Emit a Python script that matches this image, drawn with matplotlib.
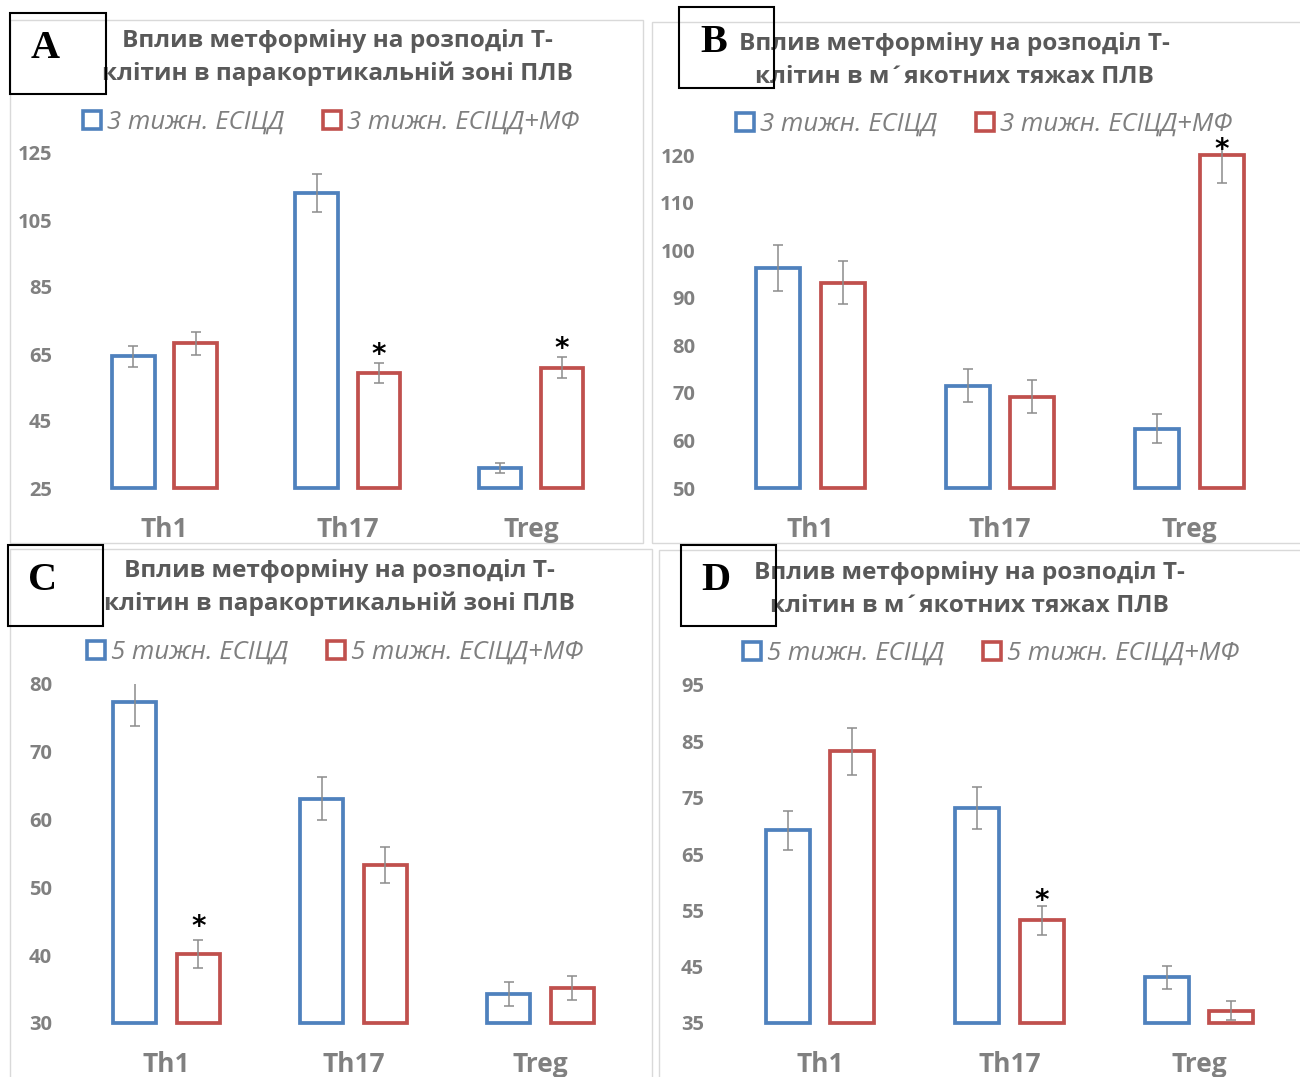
import matplotlib
matplotlib.use("Agg")
import matplotlib.pyplot as plt
from matplotlib.patches import Rectangle, Patch

W, H = 1300, 1077

categories = ["Th1", "Th17", "Treg"]

# Panel A: 3 weeks, paracortical zone
A_esicd = [64.3, 113.0, 31.0]
A_esicd_err = [3.1, 5.7, 1.6]
A_mf = [68.2, 59.2, 60.9]
A_mf_err = [3.5, 3.0, 3.1]
A_stars = [1, 2]
A_ticks = [25, 45, 65, 85, 105, 125]

# Panel B: 3 weeks, medullary cords
B_esicd = [96.2, 71.5, 62.5]
B_esicd_err = [4.8, 3.5, 3.1]
B_mf = [93.2, 69.2, 120.0]
B_mf_err = [4.6, 3.4, 5.9]
B_stars = [2]
B_ticks = [50, 60, 70, 80, 90, 100, 110, 120]

# Panel C: 5 weeks, paracortical zone
C_esicd = [77.3, 63.1, 34.3]
C_esicd_err = [3.5, 3.2, 1.75]
C_mf = [40.2, 53.3, 35.2]
C_mf_err = [2.05, 2.6, 1.8]
C_stars = [0]
C_ticks = [30, 40, 50, 60, 70, 80]

# Panel D: 5 weeks, medullary cords
D_esicd = [69.2, 73.2, 43.1]
D_esicd_err = [3.45, 3.7, 2.1]
D_mf = [83.2, 53.2, 37.2]
D_mf_err = [4.2, 2.65, 1.7]
D_stars = [1]
D_ticks = [35, 45, 55, 65, 75, 85, 95]

title1 = "Вплив метформіну на розподіл Т-"
title2_par = "клітин в паракортикальній зоні ПЛВ"
title2_med = "клітин в м\u00b4якотних тяжах ПЛВ"
leg3 = ["3 тижн. ЕСІЦД", "3 тижн. ЕСІЦД+МФ"]
leg5 = ["5 тижн. ЕСІЦД", "5 тижн. ЕСІЦД+МФ"]

BLUE = "#4F81BD"
RED = "#C0504D"
GRAY_T = "#595959"
GRAY_L = "#7F7F7F"

fig = plt.figure(figsize=(W / 100, H / 100), dpi=100)
fig.patch.set_facecolor("white")


def fx(x):
    return x / W


def fy(y):
    return 1 - y / H


def frame(x0, y0, x1, y1, color="#D9D9D9", lw=1.0, z=0):
    r = Rectangle((fx(x0), fy(y1)), fx(x1) - fx(x0), fy(y0) - fy(y1),
                  transform=fig.transFigure, fill=False, edgecolor=color,
                  linewidth=lw, zorder=z)
    fig.add_artist(r)


panels = [
    dict(esicd=A_esicd, esicd_err=A_esicd_err, mf=A_mf, mf_err=A_mf_err,
         stars=A_stars, ticks=A_ticks, ylim=(25, 125),
         ax=(73, 153, 622.5, 488), frame=(10, 20, 643, 543),
         t2=title2_par, tcx=337.5, ty=(41, 74),
         leg=leg3, legy=122, legx=331,
         label="A", lbox=(10, 13, 106, 94), star_off=8.5),
    dict(esicd=B_esicd, esicd_err=B_esicd_err, mf=B_mf, mf_err=B_mf_err,
         stars=B_stars, ticks=B_ticks, ylim=(50, 122),
         ax=(715.75, 145.5, 1284.25, 488), frame=(652, 22, 1305, 543),
         t2=title2_med, tcx=954.5, ty=(44, 77),
         leg=leg3, legy=124, legx=984,
         label="B", lbox=(679, 7, 774, 88), star_off=-23),
    dict(esicd=C_esicd, esicd_err=C_esicd_err, mf=C_mf, mf_err=C_mf_err,
         stars=C_stars, ticks=C_ticks, ylim=(30, 80),
         ax=(73, 684, 634, 1023), frame=(10, 549, 652, 1085),
         t2=title2_par, tcx=339.5, ty=(571, 604),
         leg=leg5, legy=652, legx=335,
         label="C", lbox=(8, 545, 103, 626), star_off=12.5),
    dict(esicd=D_esicd, esicd_err=D_esicd_err, mf=D_mf, mf_err=D_mf_err,
         stars=D_stars, ticks=D_ticks, ylim=(35, 95),
         ax=(725, 685, 1294, 1023), frame=(659, 550, 1305, 1085),
         t2=title2_med, tcx=969, ty=(573, 606),
         leg=leg5, legy=653, legx=991,
         label="D", lbox=(681, 545, 776, 626), star_off=4.5),
]

bw = 0.232
off = 0.17
for p in panels:
    frame(*p["frame"])
    x0, y0, x1, y1 = p["ax"]
    ax = fig.add_axes([fx(x0), fy(y1), fx(x1) - fx(x0), fy(y0) - fy(y1)])
    ax.set_facecolor("none")
    lo, hi = p["ylim"]
    xs = range(len(categories))
    for vals, errs, col, sgn in [(p["esicd"], p["esicd_err"], BLUE, -1),
                                 (p["mf"], p["mf_err"], RED, 1)]:
        pos = [i + sgn * off for i in xs]
        ax.bar(pos, [v - lo for v in vals], bottom=lo, width=bw,
               facecolor="white", edgecolor=col, linewidth=2.7,
               clip_on=False, zorder=2)
        ax.errorbar(pos, vals, yerr=errs, fmt="none", ecolor="#8C8C8C",
                    elinewidth=1.1, capsize=3.3, capthick=1.1, zorder=3)
    for i in p["stars"]:
        ax.annotate("*", xy=(i + off, p["mf"][i] + p["mf_err"][i]),
                    xytext=(0, p["star_off"]), textcoords="offset pixels",
                    ha="center", va="center", fontsize=20, fontweight="bold",
                    family="DejaVu Sans", color="black", zorder=5,
                    annotation_clip=False)
    ax.set_xlim(-0.5, 2.5)
    ax.set_ylim(lo, hi)
    ax.set_yticks(p["ticks"])
    ax.set_yticklabels([str(t) for t in p["ticks"]], family="Open Sans",
                       fontweight="bold", fontsize=14.5, color="#808080")
    ax.set_xticks(list(xs))
    ax.set_xticklabels(categories, family="Open Sans", fontweight="bold",
                       fontsize=19, color="#808080")
    ax.tick_params(axis="y", length=0, pad=15)
    ax.tick_params(axis="x", length=0, pad=20)
    for s in ax.spines.values():
        s.set_visible(False)

    # title
    fig.text(fx(p["tcx"]), fy(p["ty"][0]), title1, ha="center", va="center",
             family="Open Sans", fontweight="bold", fontsize=17.6, color=GRAY_T)
    fig.text(fx(p["tcx"]), fy(p["ty"][1]), p["t2"], ha="center", va="center",
             family="Open Sans", fontweight="bold", fontsize=17.6, color=GRAY_T)

    # legend
    handles = [Patch(facecolor="white", edgecolor=BLUE, linewidth=2.6),
               Patch(facecolor="white", edgecolor=RED, linewidth=2.6)]
    leg = fig.legend(handles, p["leg"], loc="center",
                     bbox_to_anchor=(fx(p["legx"]), fy(p["legy"])),
                     ncol=2, frameon=False, handlelength=0.7,
                     handleheight=0.7, handletextpad=0.25,
                     columnspacing=1.5, borderaxespad=0, borderpad=0,
                     prop=dict(family="Open Sans", style="italic", size=18.5))
    for t in leg.get_texts():
        t.set_color(GRAY_L)

    # panel label box
    bx0, by0, bx1, by1 = p["lbox"]
    frame(bx0, by0, bx1, by1, color="black", lw=1.5, z=10)
    fig.text(fx((bx0 + bx1) / 2 - 13), fy((by0 + by1) / 2 - 5), p["label"],
             ha="center", va="center", family="Liberation Serif",
             fontweight="bold", fontsize=29, color="black", zorder=11)

fig.savefig("out.png", dpi=100, facecolor="white")
